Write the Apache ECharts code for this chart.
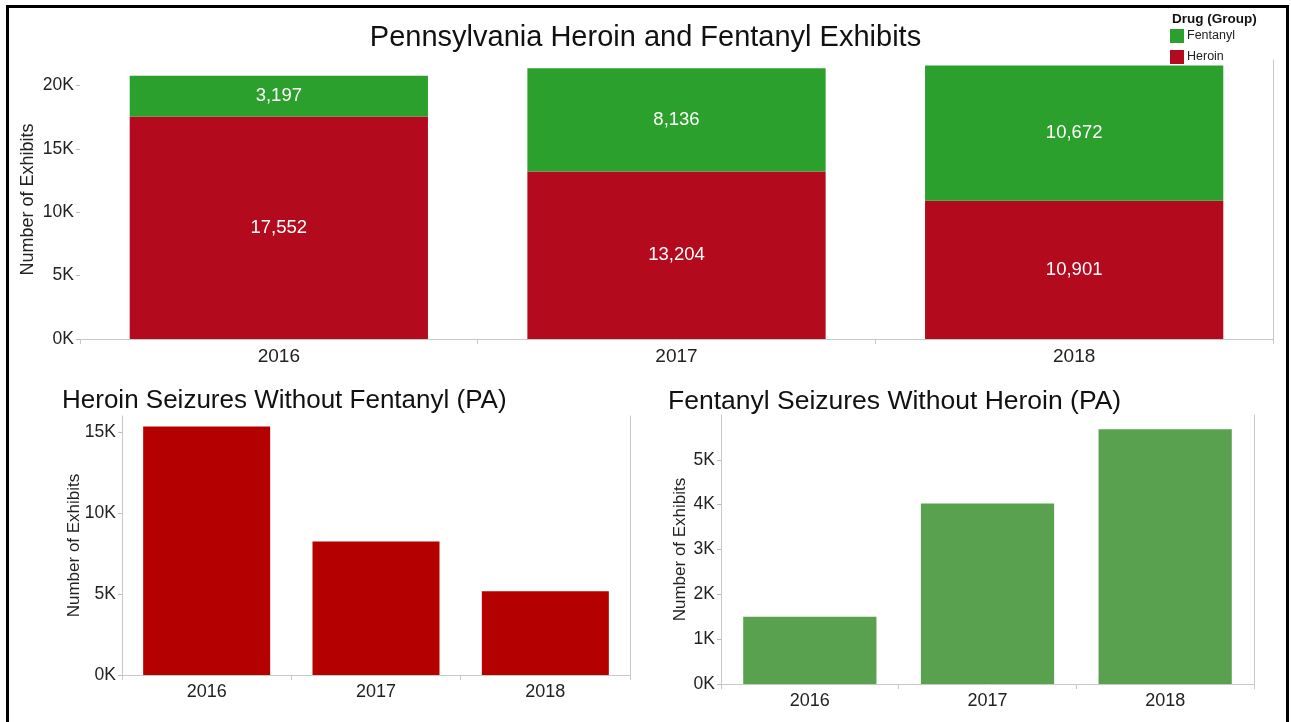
<!DOCTYPE html>
<html>
<head>
<meta charset="utf-8">
<script src="https://cdn.jsdelivr.net/npm/echarts@6/dist/echarts.min.js"></script>
<style>
html,body{margin:0;padding:0;background:#fff;}
#frame{position:absolute;left:6px;top:5px;width:1277px;height:730px;border-left:3px solid #000;border-top:3px solid #000;border-right:3px solid #000;box-sizing:content-box;}
#chart{position:absolute;left:0;top:0;width:1291px;height:722px;}
</style>
</head>
<body>
<div id="frame"></div>
<div id="chart"></div>
<script>
const years = ['2016', '2017', '2018'];
const heroinStack = [17552, 13204, 10901];
const fentanylStack = [3197, 8136, 10672];
const heroinOnly = [15350, 8250, 5180];
const fentanylOnly = [1500, 4025, 5680];
const topTicks = [0, 5000, 10000, 15000, 20000];
const leftTicks = [0, 5000, 10000, 15000];
const rightTicks = [0, 1000, 2000, 3000, 4000, 5000];

const FONT = 'Liberation Sans, Arial, sans-serif';
const kfmt = v => (v / 1000) + 'K';
const num = v => v.toLocaleString('en-US');

function xAxisCfg(gridIndex, fs) {
  return {
    type: 'category', gridIndex, data: years,
    axisLine: { show: true, lineStyle: { color: '#c8c8c8', width: 1 } },
    axisTick: { show: true, alignWithLabel: false, length: 5, lineStyle: { color: '#c8c8c8' } },
    axisLabel: { color: '#222', fontSize: fs, fontFamily: FONT, margin: 8 }
  };
}
function yAxisCfg(gridIndex, max, ticks, gap, showLine, fs) {
  return {
    type: 'value', gridIndex, min: 0, max,
    name: 'Number of Exhibits', nameLocation: 'middle', nameGap: gap, nameMoveOverlap: false,
    nameTextStyle: { color: '#222', fontSize: fs, fontFamily: FONT },
    axisLine: { show: showLine, lineStyle: { color: '#c8c8c8' } },
    axisTick: { show: true, length: 4, customValues: ticks, lineStyle: { color: '#bbb' } },
    axisLabel: { customValues: ticks, formatter: kfmt, color: '#222', fontSize: 17.5, fontFamily: FONT, margin: 6 },
    splitLine: { show: false }
  };
}
function rightBorder(gridIndex, max) {
  return {
    type: 'value', gridIndex, min: 0, max, position: 'right',
    axisLine: { show: true, lineStyle: { color: '#c8c8c8' } },
    axisTick: { show: false }, axisLabel: { show: false }, splitLine: { show: false }
  };
}

const chart = echarts.init(document.getElementById('chart'));
chart.setOption({
  animation: false,
  backgroundColor: 'transparent',
  title: [
    { text: 'Pennsylvania Heroin and Fentanyl Exhibits', left: 'center', top: 18,
      textStyle: { fontSize: 29, fontWeight: 'normal', color: '#111', fontFamily: FONT } },
    { text: 'Heroin Seizures Without Fentanyl (PA)', left: 57, top: 383,
      textStyle: { fontSize: 26, fontWeight: 'normal', color: '#111', fontFamily: FONT } },
    { text: 'Fentanyl Seizures Without Heroin (PA)', left: 663, top: 383,
      textStyle: { fontSize: 26.5, fontWeight: 'normal', color: '#111', fontFamily: FONT } },
    { text: 'Drug (Group)', left: 1167, top: 7,
      textStyle: { fontSize: 13.5, fontWeight: 'bold', color: '#111', fontFamily: FONT } }
  ],
  legend: {
    data: ['Fentanyl', 'Heroin'], orient: 'vertical', left: 1165, top: 24,
    itemWidth: 14, itemHeight: 14, itemGap: 7, icon: 'rect',
    textStyle: { fontSize: 12.5, color: '#222', fontFamily: FONT, padding: [0, 0, 0, -2] }
  },
  grid: [
    { left: 80, right: 18, top: 60, bottom: 383 },
    { left: 122, right: 661, top: 416, bottom: 47 },
    { left: 721, right: 37, top: 415, bottom: 38 }
  ],
  xAxis: [xAxisCfg(0, 19), xAxisCfg(1, 18), xAxisCfg(2, 18)],
  yAxis: [
    yAxisCfg(0, 22000, topTicks, 43, false, 18), rightBorder(0, 22000),
    yAxisCfg(1, 16000, leftTicks, 39, true, 17), rightBorder(1, 16000),
    yAxisCfg(2, 6000, rightTicks, 32, true, 17), rightBorder(2, 6000)
  ],
  series: [
    { name: 'Heroin', type: 'bar', stack: 'top', xAxisIndex: 0, yAxisIndex: 0, data: heroinStack,
      barCategoryGap: '25%', itemStyle: { color: '#b40a1e' },
      label: { show: true, position: 'inside', color: '#fff', fontSize: 18.5, fontFamily: FONT, formatter: p => num(p.value) } },
    { name: 'Fentanyl', type: 'bar', stack: 'top', xAxisIndex: 0, yAxisIndex: 0, data: fentanylStack,
      barCategoryGap: '25%', itemStyle: { color: '#2ca02c' },
      label: { show: true, position: 'inside', color: '#fff', fontSize: 18.5, fontFamily: FONT, formatter: p => num(p.value) } },
    { name: 'HeroinOnly', type: 'bar', xAxisIndex: 1, yAxisIndex: 2, data: heroinOnly,
      barCategoryGap: '25%', itemStyle: { color: '#b50000' } },
    { name: 'FentanylOnly', type: 'bar', xAxisIndex: 2, yAxisIndex: 4, data: fentanylOnly,
      barCategoryGap: '25%', itemStyle: { color: '#59a14f' } }
  ]
});
</script>
</body>
</html>
